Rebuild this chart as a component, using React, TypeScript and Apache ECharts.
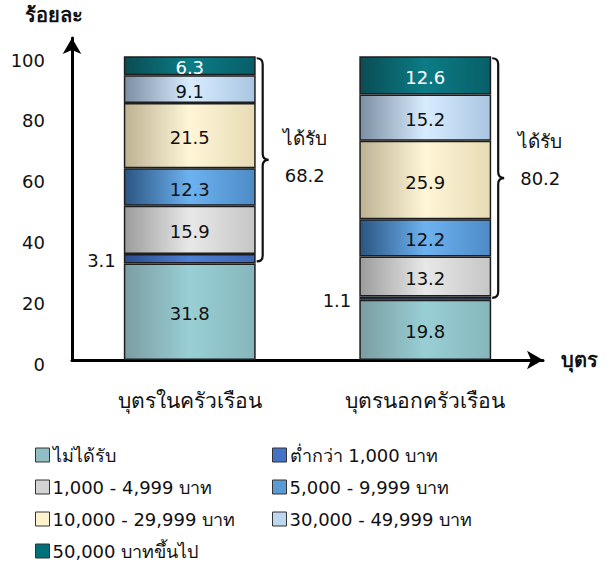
import React, { useEffect, useRef } from "react";
import * as echarts from "echarts";

const categories = ["บุตรในครัวเรือน", "บุตรนอกครัวเรือน"];
const seriesNames = [
  "ไม่ได้รับ",
  "ต่ำกว่า 1,000 บาท",
  "1,000 - 4,999 บาท",
  "5,000 - 9,999 บาท",
  "10,000 - 29,999 บาท",
  "30,000 - 49,999 บาท",
  "50,000 บาทขึ้นไป",
];
const notReceived = [31.8, 19.8];
const below1000 = [3.1, 1.1];
const b1000to4999 = [15.9, 13.2];
const b5000to9999 = [12.3, 12.2];
const b10000to29999 = [21.5, 25.9];
const b30000to49999 = [9.1, 15.2];
const over50000 = [6.3, 12.6];
const seriesValues = [notReceived, below1000, b1000to4999, b5000to9999, b10000to29999, b30000to49999, over50000];
const receivedLabel = "ได้รับ";
const yTicks = [0, 20, 40, 60, 80, 100];

const FONT = "'DejaVu Sans', 'Noto Sans', sans-serif";

// [left, center, right, legend]
const palette = [
  ["#7B9DA2", "#98CFD5", "#86B6BB", "#8FBFC4"],
  ["#2C4C8C", "#4D80D6", "#3D66B4", "#4472C4"],
  ["#9C9C9C", "#E8E8E8", "#C6C6C6", "#D3D3D3"],
  ["#2B5582", "#6DB2F0", "#4D8BC6", "#5B9BD5"],
  ["#BDB393", "#FFF6D8", "#E6DBB4", "#FFF2CC"],
  ["#7C8EA2", "#D8ECFF", "#A9C5E1", "#BDD7EE"],
  ["#0A4C53", "#0C7C86", "#075F68", "#00707A"],
];

const textOffsets = [
  [-22, 16],
  [-37, 0],
];

export default function App() {
  const ref = useRef<HTMLDivElement>(null);
  useEffect(() => {
    if (!ref.current) return;
    const chart = echarts.init(ref.current, null, { renderer: "svg" });

    const barSeries = seriesNames.map((name, i) => ({
      name,
      type: "bar",
      stack: "total",
      barWidth: "56%",
      data: seriesValues[i],
      itemStyle: {
        color: {
          type: "linear",
          x: 0,
          y: 0,
          x2: 1,
          y2: 0,
          colorStops: [
            { offset: 0, color: palette[i][0] },
            { offset: 0.5, color: palette[i][1] },
            { offset: 1, color: palette[i][2] },
          ],
        },
        borderColor: "#1E1E1E",
        borderWidth: 1.5,
      },
      label: {
        show: true,
        position: i === 1 ? "left" : "inside",
        distance: 8,
        offset: [0, 2],
        color: i === 6 ? "#FFFFFF" : "#111111",
        fontSize: 18,
        fontFamily: FONT,
        formatter: (p: any) => p.value.toFixed(1),
      },
    }));

    const braceData = categories.map((_, i) => {
      let s = 0;
      for (let k = 1; k < seriesValues.length; k++) s += seriesValues[k][i];
      return [i, notReceived[i], 100, Math.round(s * 10) / 10];
    });

    const braceSeries = {
      type: "custom",
      silent: true,
      data: braceData,
      encode: { x: 0, y: [1, 2] },
      renderItem: (params: any, api: any) => {
        const cat = api.value(0);
        const lo = api.value(1);
        const hi = api.value(2);
        const total = api.value(3);
        const top = api.coord([cat, hi]);
        const bot = api.coord([cat, lo]);
        const bw = api.size([1, 0])[0];
        const x0 = top[0] + bw * 0.28 + 1;
        const yT = top[1] + 2;
        const yB = bot[1] - 2;
        const yM = (yT + yB) / 2;
        const r = 6;
        const d = [
          `M ${x0} ${yT}`,
          `Q ${x0 + r} ${yT} ${x0 + r} ${yT + r}`,
          `L ${x0 + r} ${yM - r}`,
          `Q ${x0 + r} ${yM} ${x0 + 2 * r} ${yM}`,
          `Q ${x0 + r} ${yM} ${x0 + r} ${yM + r}`,
          `L ${x0 + r} ${yB - r}`,
          `Q ${x0 + r} ${yB} ${x0} ${yB}`,
        ].join(" ");
        const off = textOffsets[params.dataIndex];
        return {
          type: "group",
          children: [
            {
              type: "path",
              shape: { pathData: d },
              style: { stroke: "#111111", fill: "none", lineWidth: 2.2 },
            },
            {
              type: "text",
              x: x0 + 26,
              y: yM + off[0],
              style: {
                text: receivedLabel,
                fill: "#111111",
                font: `19px ${FONT}`,
                align: "left",
                verticalAlign: "middle",
              },
            },
            {
              type: "text",
              x: x0 + 28,
              y: yM + off[1],
              style: {
                text: total.toFixed(1),
                fill: "#111111",
                font: `18px ${FONT}`,
                align: "left",
                verticalAlign: "middle",
              },
            },
          ],
        };
      },
      z: 5,
    };

    const legendItem = (i: number) => ({
      name: seriesNames[i],
      itemStyle: { color: palette[i][3], borderColor: "#333333", borderWidth: 1 },
    });
    const legendCommon = {
      orient: "vertical",
      padding: 0,
      itemWidth: 14,
      itemHeight: 14,
      itemGap: 12,
      icon: "rect",
      selectedMode: false,
      textStyle: { fontSize: 18, fontFamily: FONT, color: "#111111", lineHeight: 20, padding: [0, 0, 0, -2] },
    };

    chart.setOption({
      animation: false,
      textStyle: { fontFamily: FONT },
      grid: { left: 72, right: 66, top: 38, bottom: 205, containLabel: false },
      legend: [
        { ...legendCommon, left: 35, top: 445, data: [0, 2, 4, 6].map(legendItem) },
        { ...legendCommon, left: 272, top: 445, data: [1, 3, 5].map(legendItem) },
      ],
      graphic: [
        {
          type: "text",
          left: 25,
          top: 5,
          style: { text: "ร้อยละ", font: `bold 20px ${FONT}`, fill: "#111111" },
        },
      ],
      xAxis: {
        type: "category",
        data: categories,
        name: "บุตร",
        nameLocation: "end",
        nameGap: 18,
        nameTextStyle: { fontSize: 20, fontWeight: "bold", color: "#111111", fontFamily: FONT },
        axisLine: {
          show: true,
          symbol: ["none", "arrow"],
          symbolSize: [14, 16],
          lineStyle: { color: "#000000", width: 3 },
        },
        axisTick: { show: false },
        axisLabel: { margin: 30, fontSize: 21, color: "#111111", fontFamily: FONT },
      },
      yAxis: {
        type: "value",
        min: 0,
        max: 106,
        interval: 20,
        splitLine: { show: false },
        axisTick: { show: false },
        axisLine: {
          show: true,
          symbol: ["none", "arrow"],
          symbolSize: [14, 16],
          lineStyle: { color: "#000000", width: 3 },
        },
        axisLabel: {
          margin: 27,
          fontSize: 18,
          color: "#111111",
          fontFamily: FONT,
          verticalAlign: "top",
          lineHeight: 8,
          formatter: (v: number) => (yTicks.indexOf(v) >= 0 ? String(v) : ""),
        },
      },
      series: [...barSeries, braceSeries],
    });
    return () => chart.dispose();
  }, []);
  return <div ref={ref} style={{ width: 609, height: 565, position: "absolute", left: 0, top: 0 }} />;
}
